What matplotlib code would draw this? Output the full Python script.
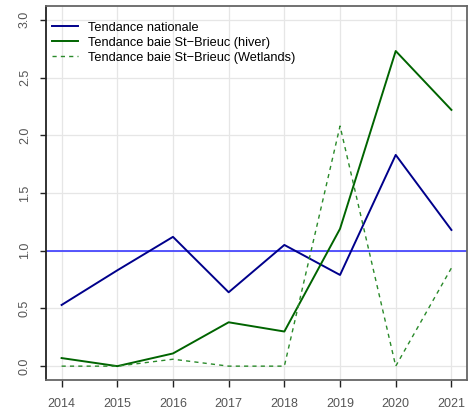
import matplotlib
matplotlib.use("Agg")
from matplotlib import pyplot as plt

annees = [2014, 2015, 2016, 2017, 2018, 2019, 2020, 2021]
nationale = [0.53, 0.83, 1.12, 0.64, 1.05, 0.79, 1.83, 1.18]
baie_hiver = [0.07, 0.0, 0.11, 0.38, 0.30, 1.19, 2.73, 2.22]
baie_wetlands = [0.0, 0.0, 0.06, 0.0, 0.0, 2.08, 0.0, 0.85]
yticks = [0.0, 0.5, 1.0, 1.5, 2.0, 2.5, 3.0]

plt.rcParams['font.family'] = ['Liberation Sans', 'DejaVu Sans']

fig = plt.figure(figsize=(4.75, 4.12), dpi=100)
ax = fig.add_axes([46 / 475, 32 / 412, 421 / 475, 374 / 412])

ax.axhline(1.0, color='#3a3aff', lw=1.2, zorder=2)
ax.plot(annees, nationale, color='#00008b', lw=1.4, label='Tendance nationale', zorder=3)
ax.plot(annees, baie_hiver, color='#006400', lw=1.4, label='Tendance baie St\u2212Brieuc (hiver)', zorder=3)
ax.plot(annees, baie_wetlands, color='#2a8a2a', lw=1.0, ls=(0, (3, 3)),
        label='Tendance baie St\u2212Brieuc (Wetlands)', zorder=3)

ax.set_xlim(2013.72, 2021.28)
ax.set_ylim(-0.12, 3.12)
ax.set_xticks(annees)
ax.set_xticklabels([str(a) for a in annees])
ax.set_yticks(yticks)
ax.set_yticklabels([f'{v:.1f}' for v in yticks], rotation=90, va='center')
ax.grid(True, color='#e6e6e6', lw=0.9, zorder=0)
ax.set_axisbelow(True)

ax.tick_params(axis='x', direction='out', length=5, width=1, color='#222222',
               labelsize=9, labelcolor='#555555', pad=8)
ax.tick_params(axis='y', direction='out', length=4.3, width=1, color='#222222',
               labelsize=9, labelcolor='#555555', pad=6.5)

for side in ['top', 'right', 'bottom']:
    ax.spines[side].set_color('#666666')
    ax.spines[side].set_linewidth(1.3)
ax.spines['left'].set_color('#222222')
ax.spines['left'].set_linewidth(1.3)

ax.legend(loc='upper left', frameon=False, fontsize=9.2, handlelength=2.0,
          handletextpad=0.8, labelspacing=0.25, borderaxespad=0.0,
          bbox_to_anchor=(0.003, 0.972))

fig.savefig('out.png', dpi=100)
